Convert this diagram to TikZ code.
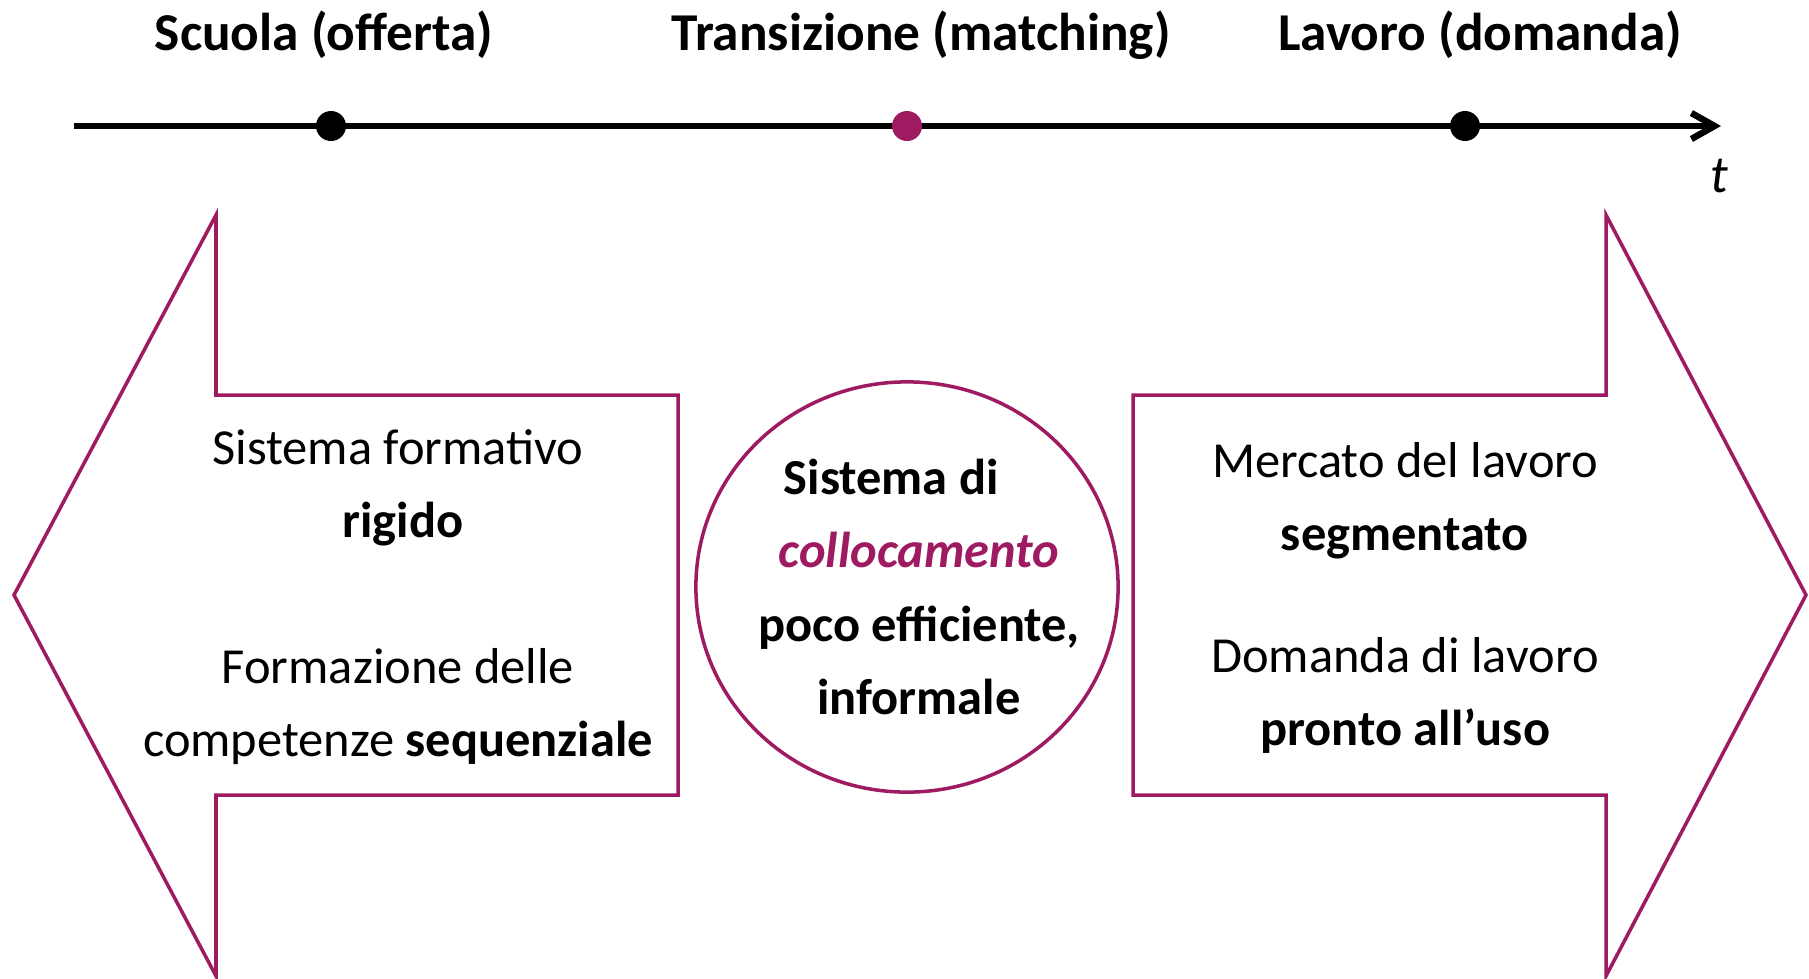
\documentclass[tikz,border=0pt]{standalone}
\usepackage{fontspec}
\setmainfont{Carlito}
\usepackage{tikz}
\usetikzlibrary{arrows.meta,shapes.geometric}
\usepackage{xcolor}
\definecolor{plum_red}{HTML}{9E1B62}

\begin{document}
\begin{tikzpicture}[x=0.01cm, y=-0.01cm,
	title/.style={font=\fontsize{15.15}{18}\selectfont\bfseries},
	body/.style={font=\fontsize{14.35}{20.8}\selectfont, align=center},
	outline/.style={draw=plum_red, line width=1pt}]
	\useasboundingbox (0, 0) rectangle (1809, 978);
	\coordinate (T0) at (74, 126);
	\coordinate (T1) at (1721, 126);
	\coordinate (P1) at (331, 126);
	\coordinate (P2) at (907, 126);
	\coordinate (P3) at (1465, 126);
	\draw[line width=1.85pt, -{Straight Barb[length=0.23cm, width=0.26cm]}] (T0) -- (T1);
	\node (tlabel) at (1719, 176) {\fontsize{15}{18}\selectfont\textit{t}};
	\fill (P1) circle(0.15cm);
	\fill[plum_red] (P2) circle(0.15cm);
	\fill (P3) circle(0.15cm);
	\node[title] (scuola) at (324, 35) {Scuola (offerta)};
	\node[title] (trans) at (921, 35) {Transizione (matching)};
	\node[title] (lavoro) at (1480, 35) {Lavoro (domanda)};
	% left arrow (offerta)
	\coordinate (L1) at (14, 595);
	\coordinate (L2) at (216, 215);
	\coordinate (L3) at (216, 395);
	\coordinate (L4) at (678, 395);
	\coordinate (L5) at (678, 795);
	\coordinate (L6) at (216, 795);
	\coordinate (L7) at (216, 976);
	\draw[outline] (L1) -- (L2) -- (L3) -- (L4) -- (L5) -- (L6) -- (L7) -- cycle;
	\node[body] (offerta) at (398, 597) {Sistema formativo\\ \textbf{rigido}\kern-0.2em\\[20.8pt]
		Formazione delle\\ competenze \textbf{sequenziale}};
	% right arrow (domanda)
	\coordinate (R1) at (1133, 395);
	\coordinate (R2) at (1606, 395);
	\coordinate (R3) at (1606, 215);
	\coordinate (R4) at (1806, 595);
	\coordinate (R5) at (1606, 976);
	\coordinate (R6) at (1606, 795);
	\coordinate (R7) at (1133, 795);
	\draw[outline] (R1) -- (R2) -- (R3) -- (R4) -- (R5) -- (R6) -- (R7) -- cycle;
	\node[body] (domanda) at (1405, 598) {Mercato del lavoro\\ \textbf{segmentato}\\[13.7pt]
		Domanda di lavoro\\ \textbf{pronto all’uso}};
	% matching
	\node[ellipse, outline, minimum width=4.22cm, minimum height=4.10cm] (hub) at (907, 587) {};
	\node[body, font=\fontsize{14.35}{20.8}\selectfont\bfseries] (matching) at (919, 587)
		{Sistema di\kern1.1em\\ \textcolor{plum_red}{\itshape collocamento}\\ poco efficiente,\\ informale};
\end{tikzpicture}
\end{document}
